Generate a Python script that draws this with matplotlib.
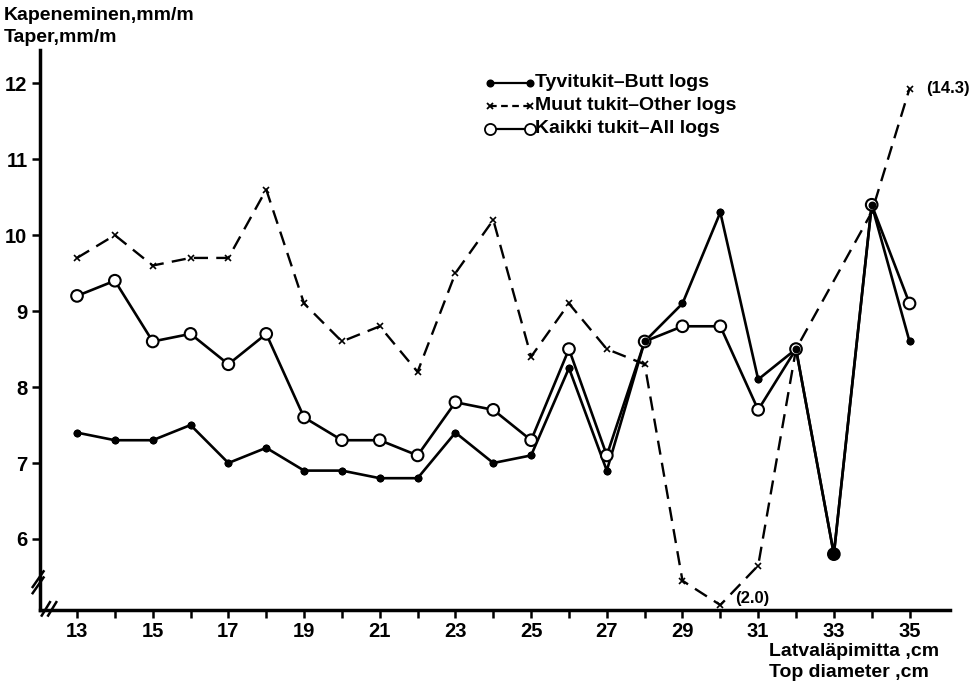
import numpy as np
import matplotlib
matplotlib.use("Agg")
import matplotlib.pyplot as plt

plt.rcParams['font.family'] = ['Liberation Sans', 'DejaVu Sans']
plt.rcParams['font.weight'] = 'bold'

# top diameter classes, cm
diam = np.arange(13, 36)

# taper, mm/m
butt_logs = [7.4, 7.3, 7.3, 7.5, 7.0, 7.2, 6.9, 6.9, 6.8, 6.8, 7.4, 7.0,
             7.1, 8.25, 6.9, 8.6, 9.1, 10.3, 8.1, 8.5, 5.8, 10.4, 8.6]
all_logs = [9.2, 9.4, 8.6, 8.7, 8.3, 8.7, 7.6, 7.3, 7.3, 7.1, 7.8, 7.7,
            7.3, 8.5, 7.1, 8.6, 8.8, 8.8, 7.7, 8.5, 5.8, 10.4, 9.1]
# no other logs in class 33; 30 and 35 fall outside the scale
other_diam = [13, 14, 15, 16, 17, 18, 19, 20, 21, 22, 23, 24,
              25, 26, 27, 28, 29, 30, 31, 32, 34, 35]
other_logs = [9.7, 10.0, 9.6, 9.7, 9.7, 10.6, 9.1, 8.6, 8.8, 8.2, 9.5, 10.2,
              8.4, 9.1, 8.5, 8.3, 5.45, 5.13, 5.65, 8.5, 10.3, 11.93]
off_scale = {30: "(2.0)", 35: "(14.3)"}

yticks = [6, 7, 8, 9, 10, 11, 12]

fig = plt.figure(figsize=(9.74, 6.89), dpi=100)
ax = fig.add_axes([0.041, 0.1147, 0.934, 0.813])

k = 'black'
ax.plot(diam, butt_logs, color=k, lw=1.9, marker='o', ms=4.5, zorder=3)
ax.plot(other_diam, other_logs, color=k, lw=1.7, ls=(0, (6, 3.5)),
        marker='x', ms=5, mew=1.2, zorder=2)
ax.plot(diam, all_logs, color=k, lw=1.9, zorder=3)
face = ['black' if d == 33 else 'white' for d in diam]
ax.scatter(diam, all_logs, s=70, facecolors=face, edgecolors=k,
           linewidths=1.5, zorder=4)
# redraw butt dots over the circles
ax.scatter(diam, butt_logs, s=22, color=k, zorder=5)

for d, txt in off_scale.items():
    y = other_logs[other_diam.index(d)]
    dx = 0.45 if d == 35 else 0.4
    dy = 0.0 if d == 35 else 0.08
    ax.text(d + dx, y + dy, txt, fontsize=12, fontweight='bold',
            ha='left', va='center')

# legend drawn by hand so the handles sit like the printed key
legend_items = [
    ("Tyvitukit\u2013Butt logs", '-', 'o', 4.5, 'black'),
    ("Muut tukit\u2013Other logs", (0, (3, 2)), 'x', 4, 'black'),
    ("Kaikki tukit\u2013All logs", '-', 'o', 8, 'white'),
]
lx0, lx1 = 0.495, 0.539
for i, (lab, ls, mk, ms, fc) in enumerate(legend_items):
    ly = 0.941 - i * 0.041
    ax.plot([lx0, lx1], [ly, ly], transform=ax.transAxes, color=k, lw=1.6,
            ls=ls, clip_on=False)
    ax.plot([lx0, lx1], [ly, ly], transform=ax.transAxes, ls='none',
            marker=mk, ms=ms, mfc=fc, mec=k, mew=1.3, clip_on=False)
    ax.text(lx1 + 0.005, ly, lab, transform=ax.transAxes, fontsize=14,
            fontweight='bold', ha='left', va='center')

ax.set_xlim(12.02, 36.06)
ax.set_ylim(5.065, 12.44)
ax.set_xticks(diam)
ax.set_xticklabels([str(d) if d % 2 else '' for d in diam])
ax.set_yticks(yticks)
ax.tick_params(axis='both', direction='out', length=6, width=1.8,
               labelsize=14.5, pad=3)
for lbl in ax.get_xticklabels() + ax.get_yticklabels():
    lbl.set_fontweight('bold')

for s in ['top', 'right']:
    ax.spines[s].set_visible(False)
for s in ['left', 'bottom']:
    ax.spines[s].set_linewidth(2.5)

# axis break marks: on the y spine and on the x spine near the corner
for dy in (0.0, 0.011):
    ax.plot([-0.008, 0.004], [0.030 + dy, 0.058 + dy],
            transform=ax.transAxes, color=k, lw=1.8, clip_on=False)
for dx in (0.0, 0.007):
    ax.plot([0.002 + dx, 0.011 + dx], [-0.010, 0.014],
            transform=ax.transAxes, color=k, lw=1.8, clip_on=False)

fig.text(0.004, 0.978, "Kapeneminen,mm/m", fontsize=14, fontweight='bold',
         ha='left', va='center')
fig.text(0.004, 0.946, "Taper,mm/m", fontsize=14, fontweight='bold',
         ha='left', va='center')
fig.text(0.79, 0.054, "Latvaläpimitta ,cm", fontsize=14, fontweight='bold',
         ha='left', va='center')
fig.text(0.79, 0.024, "Top diameter ,cm", fontsize=14, fontweight='bold',
         ha='left', va='center')

fig.savefig("out.png", dpi=100)
